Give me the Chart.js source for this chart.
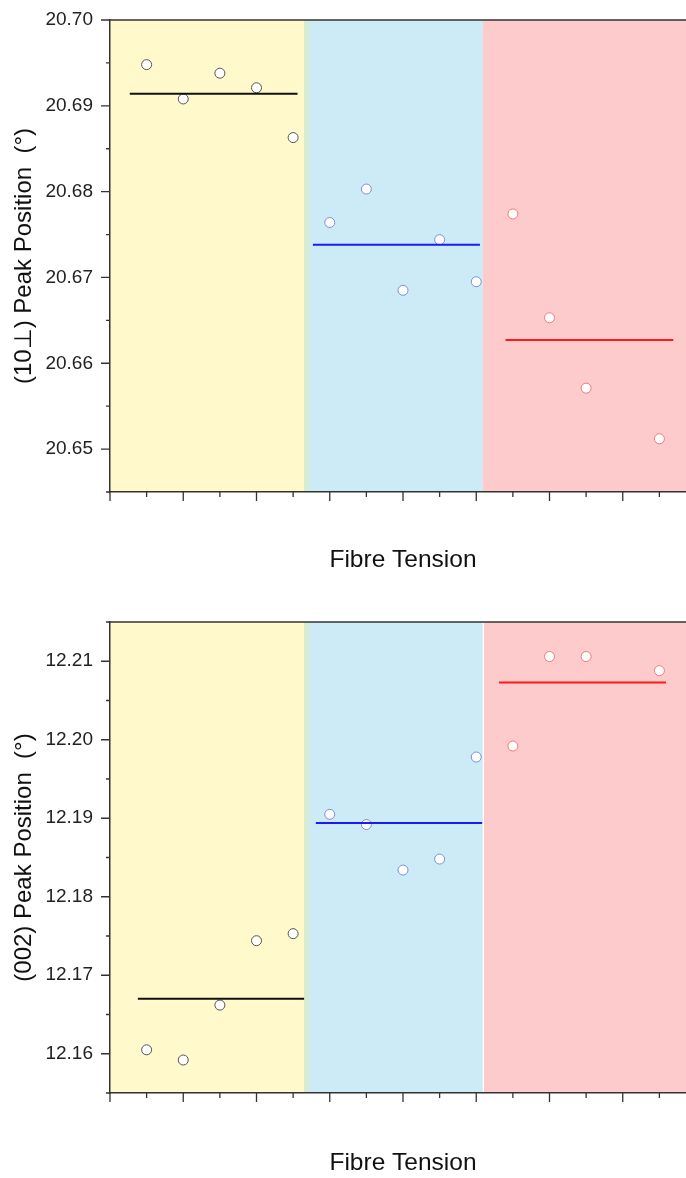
<!DOCTYPE html>
<html>
<head>
<meta charset="utf-8">
<script src="https://cdn.jsdelivr.net/npm/chart.js@4.4.1/dist/chart.umd.min.js"></script>
<style>
  html, body { margin: 0; padding: 0; background: #fff; width: 686px; height: 1178px; overflow: hidden; }
  canvas { display: block; }
</style>
</head>
<body>
<canvas id="peak10" width="696" height="590"></canvas>
<canvas id="peak002" width="696" height="588"></canvas>
<script>
// fibre tension positions of each sample group
const tensionLow = [0.5, 1, 1.5, 2, 2.5];
const tensionMid = [3, 3.5, 4, 4.5, 5];
const tensionHigh = [5.5, 6, 6.5, 7.5];

// shaded tension ranges (low / mid / high)
const bandFrom10 = [0, 2.65, 5.09];
const bandTo10 = [2.72, 5.09, 8];
const bandFrom002 = [0, 2.65, 5.105];
const bandTo002 = [2.72, 5.088, 8];

// (10⊥) peak position, degrees
const peak10Low = [20.6948, 20.6908, 20.6938, 20.6921, 20.6863];
const peak10Mid = [20.6764, 20.6803, 20.6685, 20.6744, 20.6695];
const peak10High = [20.6774, 20.6653, 20.6571, 20.6512];
const peak10Mean = [20.6914, 20.6738, 20.6627];
const peak10MeanFrom = [0.27, 2.77, 5.40];
const peak10MeanTo = [2.56, 5.05, 7.69];

// (002) peak position, degrees
const peak002Low = [12.1605, 12.1592, 12.1662, 12.1744, 12.1753];
const peak002Mid = [12.1905, 12.1892, 12.1834, 12.1848, 12.1978];
const peak002High = [12.1992, 12.2106, 12.2106, 12.2088];
const peak002Mean = [12.1670, 12.1894, 12.2073];
const peak002MeanFrom = [0.38, 2.81, 5.31];
const peak002MeanTo = [2.65, 5.08, 7.59];

const FONT = "'Liberation Sans', Arial, sans-serif";
const bandColors = ['#fff9cc', '#cdebf7', '#fdcbcb'];
const overlapColor = '#d7ecd0';
const pointBorders = ['#555555', '#7d90cc', '#f07a7a'];
const meanColors = ['#111111', '#1a1aff', '#ff1a1a'];

const frame = {
  id: 'frame',
  beforeDraw(chart, args, opts) {
    const { ctx, chartArea: a, scales: { x } } = chart;
    const { from, to } = opts;
    ctx.save();
    from.forEach((f, i) => {
      const l = Math.max(x.getPixelForValue(f), a.left);
      const r = Math.min(x.getPixelForValue(to[i]), a.right);
      ctx.fillStyle = bandColors[i];
      ctx.fillRect(l, a.top, r - l, a.bottom - a.top);
    });
    // where the low and mid ranges overlap
    const ol = x.getPixelForValue(from[1]);
    const or = x.getPixelForValue(to[0]);
    ctx.fillStyle = overlapColor;
    ctx.fillRect(ol, a.top, or - ol, a.bottom - a.top);
    ctx.restore();
  },
  afterDraw(chart) {
    const { ctx, chartArea: a, scales: { x, y } } = chart;
    ctx.save();
    ctx.strokeStyle = '#333';
    ctx.lineWidth = 1.3;
    ctx.beginPath();
    y.ticks.forEach(t => {
      const py = y.getPixelForValue(t.value);
      const len = t.label ? 9 : 4;
      ctx.moveTo(a.left - len, py);
      ctx.lineTo(a.left, py);
    });
    x.ticks.forEach(t => {
      if (!Number.isInteger(t.value * 2)) return;
      const px = x.getPixelForValue(t.value);
      const len = Number.isInteger(t.value) ? 9 : 5;
      ctx.moveTo(px, a.bottom);
      ctx.lineTo(px, a.bottom + len);
    });
    ctx.stroke();
    ctx.lineWidth = 1.5;
    ctx.beginPath();
    ctx.moveTo(a.left, a.top);
    ctx.lineTo(a.right, a.top);
    ctx.stroke();
    ctx.restore();
  }
};

function groupPoints(xs, ys, i) {
  return {
    data: xs.map((v, k) => ({ x: v, y: ys[k] })),
    pointRadius: 5,
    pointBackgroundColor: '#fff',
    pointBorderColor: pointBorders[i],
    pointBorderWidth: 1,
    showLine: false,
    order: 2
  };
}

function meanLine(mean, from, to, i) {
  return {
    data: [{ x: from, y: mean }, { x: to, y: mean }],
    borderColor: meanColors[i],
    borderWidth: 2,
    pointRadius: 0,
    showLine: true,
    order: 1
  };
}

function makeChart(id, o) {
  const datasets = [
    groupPoints(tensionLow, o.low, 0),
    groupPoints(tensionMid, o.mid, 1),
    groupPoints(tensionHigh, o.high, 2)
  ];
  o.mean.forEach((m, i) => datasets.push(meanLine(m, o.from[i], o.to[i], i)));

  return new Chart(document.getElementById(id), {
    type: 'scatter',
    data: { datasets },
    plugins: [frame],
    options: {
      responsive: false,
      animation: false,
      events: [],
      layout: { autoPadding: false, padding: { top: o.padTop, left: 0, right: 0, bottom: 0 } },
      plugins: {
        legend: { display: false },
        tooltip: { enabled: false },
        frame: { from: o.bandFrom, to: o.bandTo }
      },
      scales: {
        x: {
          type: 'linear',
          min: 0,
          max: 8,
          ticks: { display: false, stepSize: 0.5 },
          grid: { display: false, drawTicks: false },
          border: { display: true, color: '#333', width: 1.5 },
          title: {
            display: true,
            text: 'Fibre Tension',
            color: '#111',
            font: { family: FONT, size: 24.5 },
            padding: { top: 0, bottom: o.titlePad }
          },
          afterFit(s) { s.height = o.xHeight; }
        },
        y: {
          min: o.min,
          max: o.max,
          ticks: {
            stepSize: 0.005,
            padding: 17,
            color: '#222',
            font: { family: FONT, size: 19 },
            callback: v => Math.round(v * 1000) % 10 === 0 ? v.toFixed(2) : ''
          },
          grid: { display: false, drawTicks: false },
          border: { display: true, color: '#333', width: 1.5 },
          title: {
            display: true,
            text: o.label,
            color: '#111',
            font: { family: FONT, size: 24 },
            padding: { top: 10, bottom: 0 }
          },
          afterFit(s) {
            s.width = 110;
            s.paddingTop = 0;
            s.paddingBottom = 0;
          }
        }
      }
    }
  });
}

makeChart('peak10', {
  low: peak10Low, mid: peak10Mid, high: peak10High,
  mean: peak10Mean, from: peak10MeanFrom, to: peak10MeanTo,
  bandFrom: bandFrom10, bandTo: bandTo10,
  min: 20.645, max: 20.70,
  label: '(10\u22A5) Peak Position  (\u00B0)',
  padTop: 20, xHeight: 98, titlePad: 15
});

makeChart('peak002', {
  low: peak002Low, mid: peak002Mid, high: peak002High,
  mean: peak002Mean, from: peak002MeanFrom, to: peak002MeanTo,
  bandFrom: bandFrom002, bandTo: bandTo002,
  min: 12.155, max: 12.215,
  label: '(002) Peak Position  (\u00B0)',
  padTop: 32, xHeight: 85, titlePad: 0
});
</script>
</body>
</html>
